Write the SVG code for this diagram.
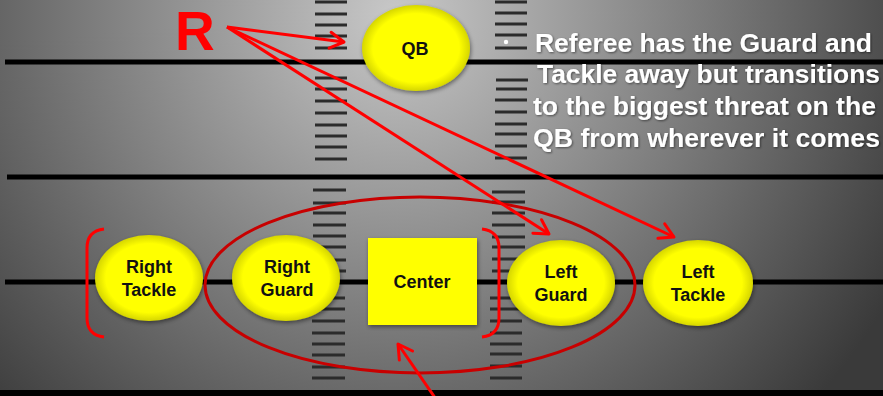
<svg xmlns="http://www.w3.org/2000/svg" width="883" height="396" viewBox="0 0 883 396">
<defs>
<radialGradient id="bg" gradientUnits="userSpaceOnUse" cx="395" cy="15" r="570">
<stop offset="0" stop-color="#c8c8c8"/>
<stop offset="1" stop-color="#3a3a3a"/>
</radialGradient>
<radialGradient id="yel" cx="0.5" cy="0.5" r="0.5">
<stop offset="0.8" stop-color="#ffff00"/>
<stop offset="1" stop-color="#d6d600"/>
</radialGradient>
<filter id="sh" x="-20%" y="-20%" width="140%" height="150%">
<feDropShadow dx="1" dy="2" stdDeviation="2" flood-color="#000" flood-opacity="0.45"/>
</filter>
<filter id="glow" x="-5%" y="-20%" width="110%" height="140%">
<feDropShadow dx="1" dy="1" stdDeviation="1" flood-color="#000" flood-opacity="0.5"/>
</filter>
<marker id="ah" markerUnits="userSpaceOnUse" markerWidth="20" markerHeight="20" refX="0" refY="0" viewBox="-16 -10 20 20" orient="auto" overflow="visible">
<path d="M -14 -8 L 0 0 L -14 8" fill="none" stroke="#ff0000" stroke-width="3" stroke-linecap="round" stroke-linejoin="round"/>
</marker>
</defs>
<style>
.yl{stroke:#000;stroke-width:5}
.tk{stroke:#2b2b2b;stroke-width:3}
.nd{fill:url(#yel);filter:url(#sh)}
.lb{font-family:"Liberation Sans",Arial,sans-serif;font-weight:bold;font-size:18px;fill:#111;text-anchor:middle}
.note{font-family:"Liberation Sans",Arial,sans-serif;font-weight:bold;font-size:26px;fill:#ffffff;filter:url(#glow)}
.ar{stroke:#ff0000;stroke-width:3;fill:none;marker-end:url(#ah)}
</style>
<rect x="0" y="0" width="883" height="396" fill="url(#bg)"/>
<g id="field">
<line class="yl" x1="5" y1="62" x2="883" y2="62"/>
<line class="yl" x1="7" y1="177" x2="883" y2="177"/>
<line class="yl" x1="5" y1="282" x2="883" y2="282"/>
<rect x="0" y="390" width="883" height="6" fill="#000"/>
<g id="ticks-left">
<line class="tk" x1="315" x2="347" y1="2" y2="2"/>
<line class="tk" x1="315" x2="347" y1="14" y2="14"/>
<line class="tk" x1="315" x2="347" y1="25" y2="25"/>
<line class="tk" x1="315" x2="347" y1="36" y2="36"/>
<line class="tk" x1="315" x2="347" y1="48" y2="48"/>
<line class="tk" x1="315" x2="347" y1="78" y2="78"/>
<line class="tk" x1="315" x2="347" y1="89" y2="89"/>
<line class="tk" x1="315" x2="347" y1="101" y2="101"/>
<line class="tk" x1="315" x2="347" y1="113" y2="113"/>
<line class="tk" x1="315" x2="347" y1="125" y2="125"/>
<line class="tk" x1="315" x2="347" y1="136" y2="136"/>
<line class="tk" x1="315" x2="347" y1="147" y2="147"/>
<line class="tk" x1="315" x2="347" y1="159" y2="159"/>
<line class="tk" x1="313" x2="346" y1="190" y2="190"/>
<line class="tk" x1="313" x2="346" y1="203" y2="203"/>
<line class="tk" x1="313" x2="346" y1="213" y2="213"/>
<line class="tk" x1="313" x2="346" y1="225" y2="225"/>
<line class="tk" x1="313" x2="346" y1="236" y2="236"/>
<line class="tk" x1="313" x2="346" y1="247" y2="247"/>
<line class="tk" x1="313" x2="346" y1="260" y2="260"/>
<line class="tk" x1="313" x2="346" y1="271" y2="271"/>
<line class="tk" x1="312" x2="345" y1="298" y2="298"/>
<line class="tk" x1="312" x2="345" y1="309" y2="309"/>
<line class="tk" x1="312" x2="345" y1="321" y2="321"/>
<line class="tk" x1="312" x2="345" y1="333" y2="333"/>
<line class="tk" x1="312" x2="345" y1="344" y2="344"/>
<line class="tk" x1="312" x2="345" y1="355" y2="355"/>
<line class="tk" x1="312" x2="345" y1="367" y2="367"/>
<line class="tk" x1="312" x2="345" y1="378" y2="378"/>
</g>
<g id="ticks-right">
<line class="tk" x1="495" x2="527" y1="2" y2="2"/>
<line class="tk" x1="495" x2="527" y1="13" y2="13"/>
<line class="tk" x1="495" x2="527" y1="24" y2="24"/>
<line class="tk" x1="495" x2="527" y1="35" y2="35"/>
<line class="tk" x1="495" x2="527" y1="48" y2="48"/>
<line class="tk" x1="496" x2="528" y1="80" y2="80"/>
<line class="tk" x1="496" x2="527" y1="89" y2="89"/>
<line class="tk" x1="495" x2="527" y1="100" y2="100"/>
<line class="tk" x1="495" x2="527" y1="112" y2="112"/>
<line class="tk" x1="495" x2="527" y1="124" y2="124"/>
<line class="tk" x1="495" x2="527" y1="134" y2="134"/>
<line class="tk" x1="495" x2="527" y1="146" y2="146"/>
<line class="tk" x1="495" x2="527" y1="158" y2="158"/>
<line class="tk" x1="492" x2="525" y1="192" y2="192"/>
<line class="tk" x1="492" x2="525" y1="202" y2="202"/>
<line class="tk" x1="492" x2="525" y1="213" y2="213"/>
<line class="tk" x1="492" x2="525" y1="225" y2="225"/>
<line class="tk" x1="492" x2="525" y1="237" y2="237"/>
<line class="tk" x1="492" x2="525" y1="247" y2="247"/>
<line class="tk" x1="492" x2="525" y1="259" y2="259"/>
<line class="tk" x1="492" x2="525" y1="271" y2="271"/>
<line class="tk" x1="490" x2="522" y1="298" y2="298"/>
<line class="tk" x1="490" x2="522" y1="309" y2="309"/>
<line class="tk" x1="490" x2="522" y1="321" y2="321"/>
<line class="tk" x1="490" x2="522" y1="333" y2="333"/>
<line class="tk" x1="490" x2="522" y1="344" y2="344"/>
<line class="tk" x1="490" x2="522" y1="354" y2="354"/>
<line class="tk" x1="490" x2="522" y1="366" y2="366"/>
<line class="tk" x1="490" x2="522" y1="378" y2="378"/>
</g>
</g>
<g id="note">
<circle cx="506" cy="42" r="2.2" fill="#fff"/>
<text class="note" x="535" y="52" textLength="337" lengthAdjust="spacingAndGlyphs">Referee has the Guard and</text>
<text class="note" x="537" y="83" textLength="343" lengthAdjust="spacingAndGlyphs">Tackle away but transitions</text>
<text class="note" x="533" y="115" textLength="343" lengthAdjust="spacingAndGlyphs">to the biggest threat on the</text>
<text class="note" x="533" y="147" textLength="347" lengthAdjust="spacingAndGlyphs">QB from wherever it comes</text>
</g>
<g id="referee">
<text x="175" y="50" font-family="'Liberation Sans',Arial,sans-serif" font-weight="bold" font-size="55" fill="#ff0000">R</text>
</g>
<g id="qb">
<ellipse class="nd" cx="416" cy="48" rx="54" ry="43"/>
<text class="lb" x="415" y="55">QB</text>
</g>
<g id="right-tackle">
<ellipse class="nd" cx="149" cy="278" rx="54" ry="43"/>
<text class="lb" x="149" y="273">Right</text>
<text class="lb" x="149" y="296">Tackle</text>
</g>
<g id="right-guard">
<ellipse class="nd" cx="286" cy="278" rx="54" ry="43"/>
<text class="lb" x="287" y="273">Right</text>
<text class="lb" x="287" y="296">Guard</text>
</g>
<g id="center">
<rect x="368" y="238" width="109" height="87" fill="#ffff00" filter="url(#sh)"/>
<text class="lb" x="422" y="288">Center</text>
</g>
<g id="left-guard">
<ellipse class="nd" cx="561" cy="283" rx="54" ry="43"/>
<text class="lb" x="561" y="278">Left</text>
<text class="lb" x="561" y="301">Guard</text>
</g>
<g id="left-tackle">
<ellipse class="nd" cx="698" cy="283" rx="55" ry="43"/>
<text class="lb" x="698" y="278">Left</text>
<text class="lb" x="698" y="301">Tackle</text>
</g>
<g id="marks">
<ellipse cx="420" cy="285" rx="215" ry="88" fill="none" stroke="#c80000" stroke-width="3"/>
<path d="M 104 229 Q 87 231 87 248 L 87 318 Q 87 335 104 337" fill="none" stroke="#ff0000" stroke-width="3"/>
<path d="M 482 229 Q 499 231 499 248 L 499 318 Q 499 335 482 337" fill="none" stroke="#ff0000" stroke-width="3"/>
</g>
<g id="connectors">
<line class="ar" x1="227" y1="27" x2="344" y2="42"/>
<line class="ar" x1="227" y1="27" x2="549" y2="234"/>
<line class="ar" x1="227" y1="27" x2="674" y2="237"/>
<line class="ar" x1="440" y1="405" x2="398" y2="344"/>
</g>
</svg>
